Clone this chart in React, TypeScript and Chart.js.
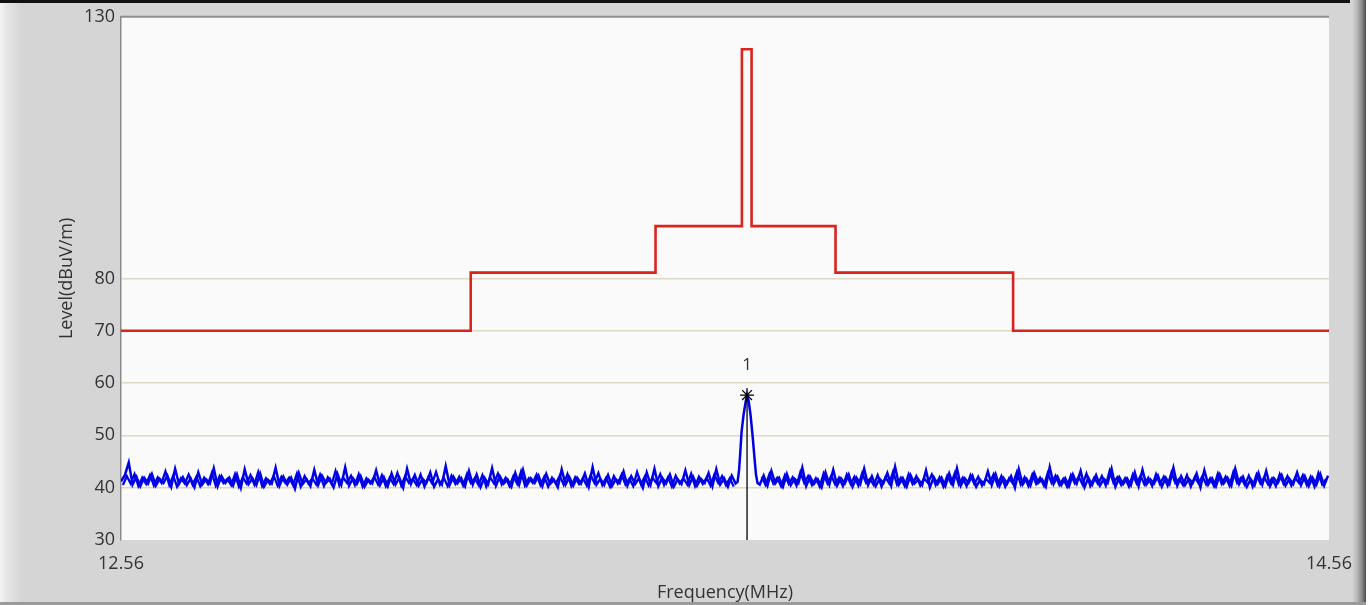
import React, { useEffect, useRef } from "react";
import { Chart, registerables } from "chart.js";

Chart.register(...registerables);

const xRange = [12.56, 14.56];
const xTickValues = [12.56, 14.56];
const yRange = [30, 130];
const yTickValues = [30, 40, 50, 60, 70, 80, 130];
const xTitle = "Frequency(MHz)";
const yTitle = "Level(dBuV/m)";

// limit line (red step)
const limitFreqs = [12.56, 13.139, 13.139, 13.445, 13.445, 13.588, 13.588, 13.604, 13.604, 13.743, 13.743, 14.037, 14.037, 14.56];
const limitLevels = [70, 70, 81.1, 81.1, 90, 90, 123.8, 123.8, 90, 90, 81.1, 81.1, 70, 70];

// measured trace (blue): sweep points on a fixed frequency step
const noiseStep = 0.0064;
const noiseLeftStart = 12.56;
const noiseLeft = [
  41.2, 42.4, 44.8, 40.6, 42.1, 40.3, 41.9, 40.8, 42.6, 40.4,
  41.7, 40.9, 42.3, 40.2, 43.6, 40.7, 42.0, 40.5, 41.8, 40.1,
  42.9, 40.6, 41.6, 40.8, 43.7, 40.3, 42.2, 40.9, 41.9, 40.4,
  42.5, 40.0, 43.5, 40.7, 41.8, 40.5, 42.7, 40.2, 41.5, 40.8,
  43.8, 40.4, 42.1, 40.6, 41.9, 39.8, 42.8, 40.7, 41.6, 40.3,
  43.4, 40.5, 42.3, 40.9, 41.7, 40.1, 42.6, 40.6, 43.9, 40.4,
  41.8, 40.7, 42.2, 40.2, 41.5, 40.8, 43.3, 40.5, 42.0, 40.3,
  42.7, 40.6, 41.9, 40.0, 43.6, 40.7, 42.4, 40.4, 41.7, 40.9,
  42.9, 40.2, 41.6, 40.6, 44.1, 40.5, 42.1, 40.8, 41.8, 40.3,
  43.2, 40.6, 42.5, 40.1, 41.9, 40.7, 43.7, 40.4, 42.2, 40.8,
  41.6, 40.2, 42.8, 40.6, 43.4, 40.5, 41.8, 40.9, 42.3, 40.3,
  42.6, 40.7, 41.5, 40.1, 43.5, 40.6, 42.0, 40.4, 41.9, 40.8,
  42.7, 40.2, 43.9, 40.6, 41.7, 40.5, 42.4, 40.3, 41.6, 40.9,
  43.1, 40.4, 42.2, 40.7, 41.8, 40.0, 42.9, 40.6, 43.6, 40.3,
  41.9, 40.8, 42.5, 40.2, 41.6, 40.7, 43.3, 40.5, 42.1, 40.4,
  41.7, 40.9, 42.8, 40.3, 43.5, 40.6, 41.8, 40.2, 42.3, 40.8,
];
// in-between sweep points (half a step later), left of the peak
const noiseLeftB = [
  40.5, 42.2, 40.8, 42.6, 40.3, 41.9, 40.7, 42.4, 40.4, 42.0,
  40.9, 43.1, 40.5, 42.3, 40.2, 41.8, 40.8, 42.5, 40.6, 42.1,
  40.3, 41.9, 40.7, 42.8, 40.4, 42.2, 40.9, 41.7, 40.5, 42.6,
  40.2, 42.0, 40.8, 42.4, 40.6, 43.0, 40.3, 41.8, 40.7, 42.3,
  40.4, 42.1, 40.9, 41.9, 40.5, 42.7, 40.2, 42.2, 40.8, 41.8,
  40.6, 42.5, 40.3, 42.0, 40.7, 43.2, 40.4, 41.9, 40.9, 42.3,
  40.5, 42.6, 40.2, 41.8, 40.8, 42.1, 40.6, 42.4, 40.3, 41.9,
  40.7, 42.8, 40.4, 42.2, 40.9, 41.7, 40.5, 42.5, 40.2, 42.0,
  40.8, 43.0, 40.6, 41.9, 40.3, 42.3, 40.7, 42.1, 40.4, 42.6,
  40.9, 41.8, 40.5, 42.4, 40.2, 42.0, 40.8, 42.7, 40.6, 41.9,
  40.3, 42.2, 40.7, 43.1, 40.4, 41.8, 40.9, 42.5, 40.5, 42.1,
  40.2, 41.9, 40.8, 42.3, 40.6, 42.6, 40.3, 42.0, 40.7, 41.8,
  40.4, 42.4, 40.9, 42.8, 40.5, 41.9, 40.2, 42.2, 40.8, 42.5,
  40.6, 41.7, 40.3, 43.0, 40.7, 42.1, 40.4, 41.9, 40.9, 42.6,
  40.5, 42.0, 40.2, 42.3, 40.8, 41.8, 40.6, 42.7, 40.3, 42.1,
  40.7, 41.9, 40.4, 42.5, 40.9, 42.2, 40.5, 41.8, 40.2,
];
const peakFreqs = [13.5808, 13.5833, 13.585, 13.5874, 13.5907, 13.594, 13.5965, 13.599, 13.6023, 13.6056, 13.6089, 13.6114, 13.6139];
const peakLevels = [41.1, 43.4, 46.2, 50.6, 53.9, 56.3, 57.7, 56.7, 53.9, 50.0, 45.6, 42.4, 40.9];
const noiseRightStart = 13.6176;
const noiseRight = [
  40.6, 42.3, 40.4, 43.2, 40.8, 41.9, 40.2, 42.6, 40.5, 41.7,
  40.9, 43.8, 40.3, 42.1, 40.7, 41.6, 40.1, 42.9, 40.6, 43.4,
  40.4, 41.8, 40.8, 42.5, 40.2, 41.9, 40.7, 43.6, 40.5, 42.2,
  40.3, 41.7, 40.9, 42.8, 40.4, 44.0, 40.6, 41.8, 40.2, 42.4,
  40.8, 41.6, 40.5, 43.3, 40.1, 42.0, 40.7, 41.9, 40.3, 42.7,
  40.6, 43.7, 40.4, 41.8, 40.9, 42.3, 40.2, 41.5, 40.7, 43.1,
  40.5, 42.6, 40.3, 41.9, 40.8, 42.2, 40.0, 43.5, 40.6, 41.7,
  40.4, 42.8, 40.9, 41.6, 40.2, 43.9, 40.7, 42.1, 40.5, 41.8,
  40.3, 42.5, 40.8, 43.2, 40.1, 41.9, 40.6, 42.4, 40.4, 41.7,
  40.9, 43.6, 40.2, 42.0, 40.7, 41.8, 40.5, 42.9, 40.3, 43.4,
  40.6, 41.6, 40.8, 42.3, 40.2, 41.9, 40.7, 43.8, 40.4, 42.2,
  40.5, 41.7, 40.9, 42.7, 40.1, 43.3, 40.6, 41.8, 40.3, 42.5,
  40.8, 41.9, 40.4, 43.6, 40.7, 42.1, 40.2, 41.6, 40.5, 42.8,
  40.6, 43.2, 40.3, 41.8, 40.9, 42.4, 40.4, 41.7, 40.7, 42.9,
  40.5, 42.2, 40.3, 41.9, 40.6, 42.6, 40.4, 42.3,
];
// in-between sweep points (half a step later), right of the peak
const noiseRightB = [
  42.1, 40.5, 42.6, 40.8, 41.9, 40.3, 42.4, 40.7, 42.0, 40.4,
  43.0, 40.9, 42.2, 40.5, 41.8, 40.2, 42.7, 40.8, 42.3, 40.6,
  41.9, 40.3, 42.5, 40.7, 42.1, 40.4, 42.8, 40.9, 41.7, 40.5,
  42.4, 40.2, 42.0, 40.8, 43.1, 40.6, 41.9, 40.3, 42.6, 40.7,
  42.2, 40.4, 41.8, 40.9, 42.5, 40.5, 42.0, 40.2, 42.3, 40.8,
  42.9, 40.6, 41.9, 40.3, 42.4, 40.7, 42.1, 40.4, 41.7, 40.9,
  42.6, 40.5, 42.2, 40.2, 41.8, 40.8, 43.0, 40.6, 42.0, 40.3,
  42.5, 40.7, 41.9, 40.4, 42.8, 40.9, 42.3, 40.5, 41.7, 40.2,
  42.4, 40.8, 42.1, 40.6, 42.7, 40.3, 41.9, 40.7, 42.2, 40.4,
  43.2, 40.9, 42.0, 40.5, 41.8, 40.2, 42.5, 40.8, 42.3, 40.6,
  41.9, 40.3, 42.6, 40.7, 42.1, 40.4, 42.9, 40.9, 41.7, 40.5,
  42.4, 40.2, 42.0, 40.8, 42.2, 40.6, 41.8, 40.3, 42.7, 40.7,
  42.1, 40.4, 43.0, 40.9, 41.9, 40.5, 42.3, 40.2, 42.5, 40.8,
  42.0, 40.6, 41.8, 40.3, 42.6, 40.7, 42.2, 40.4, 41.9, 40.9,
  42.4, 40.5, 42.1, 40.2, 42.8, 40.6, 41.7,
];

// marker 1
const markerFreq = 13.5965;
const markerLevel = 57.7;
const markerLabel = "1";
const markerLabelLevel = 63.4;

const FONT = "'Open Sans', 'DejaVu Sans', sans-serif";
const TRACE_BLUE = "#0000e6";

export default function App() {
  const canvasRef = useRef<HTMLCanvasElement | null>(null);

  useEffect(() => {
    const canvas = canvasRef.current;
    if (!canvas) return;

    const limitData = limitFreqs.map((f, i) => ({ x: f, y: limitLevels[i] }));
    const traceData = [
      ...noiseLeft.map((v, i) => ({ x: noiseLeftStart + i * noiseStep, y: v })),
      ...peakFreqs.map((f, i) => ({ x: f, y: peakLevels[i] })),
      ...noiseRight.map((v, i) => ({ x: noiseRightStart + i * noiseStep, y: v })),
    ];
    const traceBLeft = noiseLeftB.map((v, i) => ({ x: noiseLeftStart + (i + 0.5) * noiseStep, y: v }));
    const traceBRight = noiseRightB.map((v, i) => ({ x: noiseRightStart + (i + 0.5) * noiseStep, y: v }));
    const markerLine = [
      { x: markerFreq, y: yRange[0] },
      { x: markerFreq, y: markerLevel },
    ];

    const framePlugin = {
      id: "frame",
      beforeDatasetsDraw(chart: any) {
        const { ctx, chartArea } = chart;
        ctx.save();
        ctx.strokeStyle = "#8e8e8e";
        ctx.lineWidth = 2;
        ctx.beginPath();
        ctx.moveTo(chartArea.left, chartArea.top);
        ctx.lineTo(chartArea.right, chartArea.top);
        ctx.stroke();
        ctx.restore();
      },
      beforeDraw(chart: any) {
        const { ctx, chartArea } = chart;
        ctx.save();
        ctx.fillStyle = "#fafafa";
        ctx.fillRect(chartArea.left, chartArea.top, chartArea.right - chartArea.left, chartArea.bottom - chartArea.top);
        ctx.restore();
      },
      afterDatasetsDraw(chart: any) {
        const { ctx, scales } = chart;
        ctx.save();
        ctx.fillStyle = "#333";
        ctx.font = `17px ${FONT}`;
        ctx.textAlign = "center";
        ctx.textBaseline = "middle";
        ctx.fillText(markerLabel, scales.x.getPixelForValue(markerFreq), scales.y.getPixelForValue(markerLabelLevel));
        ctx.restore();
      },
    };

    const chart = new Chart(canvas, {
      type: "line",
      data: {
        datasets: [
          {
            data: [{ x: markerFreq, y: markerLevel }],
            borderColor: "#000",
            backgroundColor: "#000",
            pointStyle: "star",
            pointRadius: 7,
            pointBorderWidth: 1.2,
            showLine: false,
          },
          {
            data: markerLine,
            borderColor: "#000",
            borderWidth: 1.3,
            pointRadius: 0,
          },
          {
            data: traceData,
            borderColor: TRACE_BLUE,
            borderWidth: 2.5,
            pointRadius: 0,
            tension: 0,
          },
          {
            data: traceBLeft,
            borderColor: TRACE_BLUE,
            borderWidth: 2.3,
            pointRadius: 0,
            tension: 0,
          },
          {
            data: traceBRight,
            borderColor: TRACE_BLUE,
            borderWidth: 2.3,
            pointRadius: 0,
            tension: 0,
          },
          {
            data: limitData,
            borderColor: "#d9231c",
            borderWidth: 2.6,
            pointRadius: 0,
            tension: 0,
          },
        ],
      },
      options: {
        responsive: false,
        animation: false,
        events: [],
        layout: { padding: { left: 0, top: 16, right: 41, bottom: 0 } },
        plugins: { legend: { display: false }, tooltip: { enabled: false } },
        scales: {
          x: {
            type: "linear",
            min: xRange[0],
            max: xRange[1],
            afterBuildTicks: (s: any) => {
              s.ticks = xTickValues.map((v) => ({ value: v }));
            },
            afterFit: (s: any) => {
              s.height = 65;
            },
            grid: { display: false, drawTicks: false },
            border: { display: false },
            ticks: {
              color: "#333",
              font: { family: FONT, size: 18 },
              padding: 13,
              maxRotation: 0,
              autoSkip: false,
              callback: (v: any) => Number(v).toFixed(2),
            },
            title: {
              display: true,
              text: xTitle,
              color: "#333",
              font: { family: FONT, size: 18 },
              padding: { top: 0, bottom: 1 },
            },
          },
          y: {
            type: "linear",
            min: yRange[0],
            max: yRange[1],
            afterBuildTicks: (s: any) => {
              s.ticks = yTickValues.map((v) => ({ value: v }));
            },
            afterFit: (s: any) => {
              s.width = 121;
            },
            grid: {
              drawTicks: false,
              color: (c: any) =>
                c.tick && (c.tick.value === yRange[0] || c.tick.value === yRange[1]) ? "rgba(0,0,0,0)" : "#ddd8c4",
              lineWidth: 1.5,
            },
            border: { display: true, color: "#8a8a8a", width: 1.5 },
            ticks: {
              color: "#333",
              font: { family: FONT, size: 18 },
              padding: 6,
              autoSkip: false,
            },
            title: {
              display: true,
              text: yTitle,
              color: "#333",
              font: { family: FONT, size: 18 },
              padding: { top: 56, bottom: 0 },
            },
          },
        },
      },
      plugins: [framePlugin],
    } as any);

    return () => chart.destroy();
  }, []);

  return (
    <div
      style={{
        position: "absolute",
        left: 0,
        top: 0,
        width: 1370,
        height: 605,
        background: "#d5d5d5",
        overflow: "hidden",
      }}
    >
      <div style={{ position: "absolute", left: 0, top: 0, width: 22, height: 605, background: "linear-gradient(to right, #f4f4f4 0px, #e6e6e6 6px, #dcdcdc 16px, #d5d5d5 22px)" }} />
      <div style={{ position: "absolute", left: 1352, top: 0, width: 14, height: 605, background: "linear-gradient(to right, #d5d5d5 0px, #b8b8b8 5px, #8a8a8a 10px, #4a4a4a 14px)" }} />
      <div style={{ position: "absolute", left: 1366, top: 0, width: 4, height: 605, background: "#ffffff" }} />
      <div style={{ position: "absolute", left: 0, top: 0, width: 1350, height: 3, background: "#111" }} />
      <div style={{ position: "absolute", left: 0, top: 602, width: 1366, height: 3, background: "#9a9a9a" }} />
      <canvas ref={canvasRef} width={1370} height={605} style={{ position: "absolute", left: 0, top: 0 }} />
    </div>
  );
}
